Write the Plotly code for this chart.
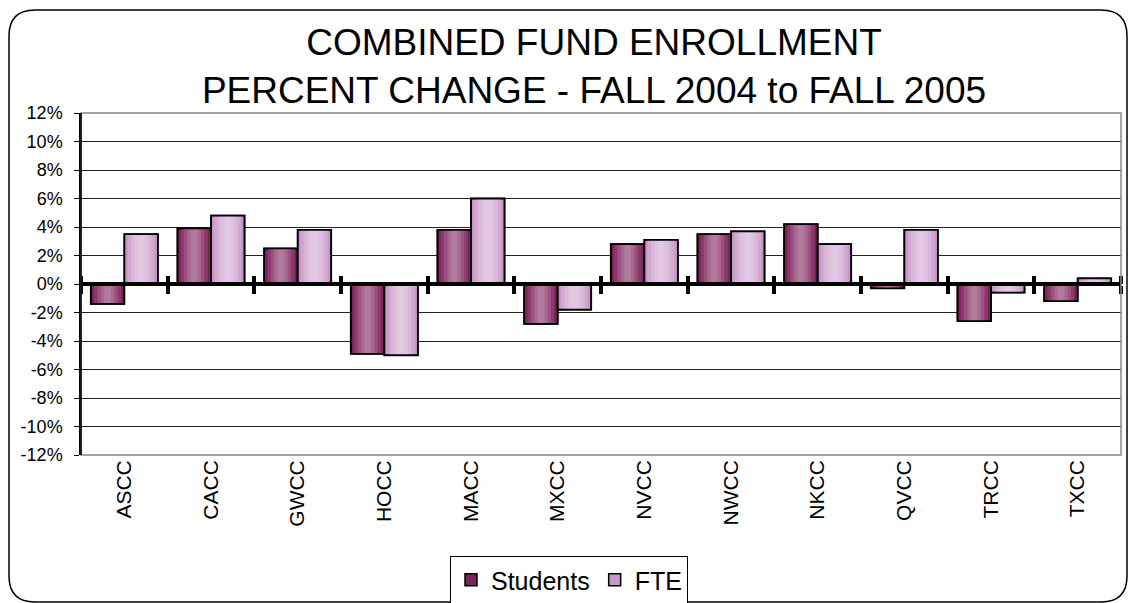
import plotly.graph_objects as go

categories = ["ASCC", "CACC", "GWCC", "HOCC", "MACC", "MXCC",
              "NVCC", "NWCC", "NKCC", "QVCC", "TRCC", "TXCC"]
students = [-1.4, 3.9, 2.5, -4.9, 3.8, -2.8, 2.8, 3.5, 4.2, -0.3, -2.6, -1.2]
fte = [3.5, 4.8, 3.8, -5.0, 6.0, -1.8, 3.1, 3.7, 2.8, 3.8, -0.6, 0.4]
y_ticks = list(range(-12, 13, 2))
y_labels = [f"{v}%" for v in y_ticks]

FONT = "Liberation Sans, Arial, sans-serif"
W = 1130
H = 603
ML, MR, MT, MB = 81, 9, 113, 148
PW = W - ML - MR
PH = H - MT - MB

BAR_W = 0.387

# gradient colour stops (edge -> centre)
stu_cols = ["#7a2458", "#8c3a6c", "#9c5181", "#a86890", "#b07a9c"]
fte_cols = ["#c896c7", "#d2a8d1", "#d9b7d9", "#dec2df", "#e2c9e3"]

fig = go.Figure()
n = len(categories)


def add_series(name, vals, cols, offset):
    steps = len(cols)
    for k, c in enumerate(cols):
        frac = 1 - k / steps
        w = BAR_W * frac
        off = offset + (BAR_W - w) / 2
        fig.add_trace(go.Bar(
            x=categories, y=vals, name=name, width=w, offset=off,
            marker=dict(color=c, line=dict(width=1.5 if k == 0 else 0, color="black")),
            showlegend=(k == 0), legendgroup=name, hoverinfo="skip" if k else None,
        ))
    fig.add_trace(go.Bar(
        x=categories, y=vals, name=name, width=BAR_W, offset=offset,
        marker=dict(color="rgba(0,0,0,0)", line=dict(width=1.8, color="black")),
        showlegend=False, legendgroup=name,
    ))


add_series("Students", students, stu_cols, -BAR_W)
add_series("FTE", fte, fte_cols, 0)

bounds = [i - 0.5 for i in range(n + 1)]
for ax in ("x2", "x3"):
    fig.add_trace(go.Scatter(x=bounds, y=[0] * len(bounds), mode="markers",
                             marker=dict(opacity=0), xaxis=ax, yaxis="y",
                             showlegend=False, hoverinfo="skip"))

border_ax = dict(
    overlaying="x", anchor="free", position=0.5, range=[-0.5, n - 0.5],
    tickvals=bounds, showticklabels=False, showgrid=False, zeroline=False,
    showline=False, ticks="outside", ticklen=8, tickwidth=4, tickcolor="black",
)


def px(xp):  # pixel -> paper
    return (xp - ML) / PW


def py(yp):
    return (H - MB - yp) / PH


x0, x1, y0, y1 = 9, 1127, 10, 602
r = 26
path = (
    f"M {px(x0 + r)} {py(y0)} L {px(x1 - r)} {py(y0)} "
    f"Q {px(x1)} {py(y0)} {px(x1)} {py(y0 + r)} "
    f"L {px(x1)} {py(y1 - r)} Q {px(x1)} {py(y1)} {px(x1 - r)} {py(y1)} "
    f"L {px(x0 + r)} {py(y1)} Q {px(x0)} {py(y1)} {px(x0)} {py(y1 - r)} "
    f"L {px(x0)} {py(y0 + r)} Q {px(x0)} {py(y0)} {px(x0 + r)} {py(y0)} Z"
)

fig.update_layout(
    width=W, height=H,
    margin=dict(l=ML, r=MR, t=MT, b=MB, autoexpand=False),
    paper_bgcolor="white", plot_bgcolor="white",
    barmode="overlay",
    font=dict(family=FONT, color="black"),
    title=dict(
        text="COMBINED FUND ENROLLMENT<br>PERCENT CHANGE - FALL 2004 to FALL 2005",
        x=594 / W, xref="container", xanchor="center",
        y=1 - 55 / H, yref="container", yanchor="middle",
        font=dict(family=FONT, size=37, color="black"),
    ),
    xaxis=dict(
        type="category", range=[-0.5, n - 0.5], tickangle=-90,
        tickfont=dict(size=21), showgrid=False, ticks="", showline=False,
        zeroline=False,
    ),
    xaxis2=dict(border_ax, side="bottom", showline=True, linecolor="black", linewidth=4),
    xaxis3=dict(border_ax, side="top"),
    yaxis=dict(
        range=[-12, 12], tickvals=y_ticks, ticktext=y_labels,
        tickfont=dict(size=18), showgrid=True, gridcolor="#222222", gridwidth=1,
        zeroline=False, showline=True, linecolor="black", linewidth=1.5,
        ticks="outside", ticklen=5, tickcolor="black", ticklabelstandoff=8,
    ),
    legend=dict(
        orientation="h", xref="container", yref="container",
        x=569 / W, y=1 - 580 / H, xanchor="center", yanchor="middle",
        bordercolor="black", borderwidth=1, bgcolor="white",
        font=dict(family=FONT, size=25), itemwidth=30, traceorder="normal",
    ),
    shapes=[
        dict(type="rect", xref="x domain", yref="y domain", x0=0, x1=1, y0=0, y1=1,
             line=dict(color="#888888", width=1.5), layer="above"),
        dict(type="line", xref="x domain", yref="y domain", x0=0, x1=0, y0=0, y1=1,
             line=dict(color="black", width=1.5), layer="above"),
        dict(type="path", xref="paper", yref="paper", path=path,
             line=dict(color="black", width=1.5)),
    ],
)

fig.write_html(
    "out.html",
    config={"displayModeBar": False},
    post_script="document.body.style.margin='0';document.body.style.overflow='hidden';",
)
